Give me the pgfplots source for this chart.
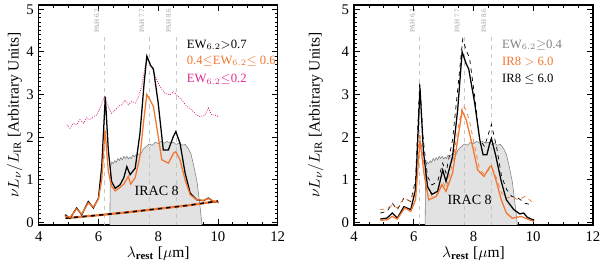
\documentclass[border=0pt]{standalone}
\usepackage{pgfplots}
\pgfplotsset{compat=1.18}
\usepackage{fontspec}
\setmainfont{Liberation Serif}
\definecolor{myorange}{RGB}{242,118,48}
\definecolor{mymag}{RGB}{224,40,140}
\definecolor{filterfill}{RGB}{226,226,226}

\pgfplotstableread{
x y
6.38 -0.1
6.40 1.30
6.45 1.42
6.50 1.38
6.55 1.45
6.60 1.41
6.65 1.50
6.70 1.45
6.75 1.52
6.80 1.47
6.85 1.55
6.90 1.50
6.95 1.55
7.00 1.49
7.05 1.53
7.10 1.50
7.15 1.58
7.20 1.54
7.30 1.62
7.40 1.58
7.50 1.72
7.60 1.78
7.70 1.84
7.80 1.81
7.90 1.88
8.00 1.85
8.10 1.90
8.20 1.86
8.30 1.90
8.40 1.86
8.50 1.88
8.60 1.83
8.70 1.86
8.80 1.81
8.90 1.83
9.00 1.74
9.10 1.60
9.20 1.30
9.30 0.95
9.38 0.50
9.46 0.00
9.47 -0.1
}\filt

\pgfplotstableread{
x y
4.88 0.18
5.05 0.10
5.27 0.34
5.44 0.18
5.66 0.49
5.83 0.34
6.00 0.57
6.11 1.31
6.23 2.95
6.33 1.70
6.44 0.96
6.56 0.80
6.72 0.88
6.85 1.05
6.95 1.31
7.06 1.12
7.23 1.27
7.39 2.09
7.53 3.27
7.62 3.90
7.75 3.68
7.84 3.60
8.00 2.80
8.17 1.70
8.34 1.70
8.51 2.02
8.59 2.13
8.73 1.86
8.90 1.16
9.07 0.69
9.29 0.53
9.51 0.51
9.68 0.57
9.85 0.49
10.02 0.47
}\Lblack

\pgfplotstableread{
x y
4.88 0.15
5.05 0.12
5.27 0.32
5.44 0.20
5.66 0.46
5.83 0.36
6.00 0.55
6.11 1.00
6.22 2.17
6.33 1.20
6.44 0.85
6.56 0.74
6.72 0.82
6.85 0.90
7.00 1.08
7.08 0.90
7.23 1.05
7.39 1.55
7.53 2.48
7.62 3.00
7.73 2.87
7.84 2.72
8.00 2.02
8.12 1.47
8.34 1.39
8.51 1.62
8.59 1.66
8.73 1.47
8.90 1.00
9.07 0.65
9.29 0.53
9.51 0.52
9.68 0.56
9.85 0.50
10.02 0.46
}\Lorange

\pgfplotstableread{
x y
4.94 2.29
5.05 2.21
5.16 2.33
5.27 2.29
5.38 2.41
5.50 2.33
5.61 2.45
5.72 2.41
5.83 2.48
5.94 2.52
6.05 2.68
6.20 2.95
6.33 2.72
6.44 2.56
6.56 2.64
6.67 2.72
6.78 2.76
6.89 2.87
7.00 2.76
7.11 2.84
7.23 2.80
7.34 2.95
7.45 3.19
7.56 3.66
7.62 3.85
7.73 3.70
7.84 3.54
7.95 3.34
8.06 3.19
8.23 3.03
8.40 2.99
8.51 3.07
8.62 2.99
8.79 2.87
8.96 2.72
9.12 2.64
9.29 2.52
9.40 2.48
9.57 2.52
9.68 2.68
9.79 2.52
9.90 2.52
10.02 2.48
}\Lmag

\pgfplotstableread{
x y
4.90 0.10
6.00 0.17
7.00 0.24
8.00 0.32
9.00 0.40
10.00 0.50
}\Lcont

\pgfplotstableread{
x y
4.88 0.08
5.10 0.10
5.28 0.22
5.45 0.10
5.67 0.37
5.90 0.30
6.06 0.77
6.21 3.15
6.32 1.70
6.46 0.84
6.61 0.66
6.80 0.73
6.97 1.23
7.08 0.96
7.30 1.55
7.47 2.64
7.62 4.00
7.75 3.73
7.84 3.60
8.04 2.80
8.21 1.94
8.32 1.59
8.45 1.59
8.54 1.85
8.60 1.97
8.75 1.55
8.93 0.96
9.10 0.53
9.35 0.30
9.55 0.20
9.68 0.22
9.80 0.12
10.03 0.05
}\Rblack

\pgfplotstableread{
x y
4.88 0.05
5.10 0.06
5.28 0.14
5.45 0.08
5.70 0.34
5.90 0.26
6.06 0.53
6.21 1.93
6.34 1.16
6.50 0.53
6.75 0.61
6.95 0.88
7.08 0.73
7.30 1.16
7.47 1.94
7.62 2.62
7.76 2.40
7.97 1.78
8.14 1.23
8.35 1.08
8.54 1.30
8.60 1.33
8.75 1.00
8.93 0.53
9.10 0.22
9.30 0.10
9.60 0.14
9.80 0.08
10.03 0.02
}\Rorange

\pgfplotstableread{
x y
4.88 0.22
5.11 0.26
5.28 0.45
5.45 0.30
5.67 0.57
5.90 0.49
6.06 1.00
6.20 3.30
6.32 1.94
6.46 1.08
6.61 0.88
6.80 0.96
6.97 1.39
7.08 1.16
7.30 1.94
7.47 3.11
7.64 4.30
7.75 4.05
7.87 3.85
8.04 2.95
8.21 1.94
8.37 1.78
8.54 2.17
8.60 2.30
8.77 1.78
8.94 1.08
9.11 0.77
9.28 0.61
9.50 0.57
9.73 0.45
9.95 0.41
}\Rdblack

\pgfplotstableread{
x y
4.88 0.30
5.10 0.32
5.28 0.41
5.45 0.34
5.67 0.57
5.90 0.50
6.06 0.84
6.20 2.10
6.32 1.47
6.46 0.84
6.61 0.61
6.80 0.65
6.97 0.96
7.08 0.80
7.30 1.39
7.47 2.17
7.64 2.75
7.75 2.64
7.87 2.37
8.04 1.78
8.21 1.23
8.37 1.12
8.60 1.31
8.77 1.04
8.94 0.69
9.11 0.57
9.28 0.61
9.50 0.53
9.73 0.61
9.95 0.49
}\Rdorange

\pgfplotsset{panel/.style={
  scale only axis, width=5.975cm, height=5.5cm,
  xmin=4, xmax=12, ymin=-0.06, ymax=5.1,
  xtick={4,6,8,10,12}, ytick={0,1,2,3,4,5},
  minor x tick num=3, minor y tick num=9,
  tick align=inside, major tick length=0.14cm, minor tick length=0.07cm,
  axis line style={line width=1.1pt},
  every tick/.style={black, line width=0.6pt},
  /pgf/number format/assume math mode=true,
  tick label style={font=\fontsize{10.5}{12}\selectfont},
  xlabel={$\lambda_{\mathbf{rest}}$ [$\mu$m]},
  ylabel={$\nu L_\nu/L_{\rm IR}$ [Arbitrary Units]},
  label style={font=\fontsize{11}{13}\selectfont},
  xlabel style={at={(axis description cs:0.5,-0.13)}, anchor=center},
  xticklabel style={yshift=-1pt},
  clip mode=individual,
}}

\newcommand{\pahlines}{
  \addplot[gray!45, dashed, thin] coordinates {(6.2,-0.1) (6.2,4.45)};
  \addplot[gray!45, dashed, thin] coordinates {(7.7,-0.1) (7.7,4.45)};
  \addplot[gray!45, dashed, thin] coordinates {(8.6,-0.1) (8.6,4.45)};
  \node[rotate=90, text=gray!75, font=\fontsize{5}{5}\selectfont] at (axis cs:5.95,4.73) {PAH 6.2};
  \node[rotate=90, text=gray!75, font=\fontsize{5}{5}\selectfont] at (axis cs:7.45,4.73) {PAH 7.7};
  \node[rotate=90, text=gray!75, font=\fontsize{5}{5}\selectfont] at (axis cs:8.35,4.73) {PAH 8.6};
}

\newcommand{\lfont}{\fontsize{9}{11}\selectfont}

\begin{document}
\begin{tikzpicture}
\path[use as bounding box] (0,0) rectangle (15cm,6.675cm);

\begin{axis}[panel, at={(0.9675cm,1.05cm)}, anchor=south west,
  ylabel style={at={(axis description cs:-0.1,0.5)}, anchor=center}]
  \addplot[fill=filterfill, draw=gray, line width=0.4pt] table {\filt} -- cycle;
  \pahlines
  \addplot[mymag, densely dotted, line width=0.6pt] table {\Lmag};
  \addplot[myorange, line width=1.6pt] table {\Lcont};
  \addplot[black, dashed, line width=1.1pt] table {\Lcont};
  \addplot[black, line width=0.9pt] table {\Lblack};
  \addplot[myorange, line width=0.9pt] table {\Lorange};
  \node[font=\fontsize{10}{12}\selectfont] at (axis cs:7.95,0.73) {IRAC 8};
  \node[anchor=west, inner sep=0pt, font=\lfont, text=black] at (axis cs:8.95,4.16) {EW$_{6.2}$$>$0.7};
  \node[anchor=west, inner sep=0pt, font=\lfont, text=myorange] at (axis cs:8.95,3.79) {0.4$\leq$EW$_{6.2}$$\leq$ 0.6};
  \node[anchor=west, inner sep=0pt, font=\lfont, text=mymag] at (axis cs:8.95,3.35) {EW$_{6.2}$$\leq$0.2};
\end{axis}

\begin{axis}[panel, at={(8.85cm,1.05cm)}, anchor=south west,
  ylabel style={at={(axis description cs:-0.16,0.5)}, anchor=center}]
  \addplot[fill=filterfill, draw=gray, line width=0.4pt] table {\filt} -- cycle;
  \pahlines
  \addplot[black, dashed, line width=0.5pt] table {\Rdblack};
  \addplot[myorange, dashed, line width=0.5pt] table {\Rdorange};
  \addplot[black, line width=0.9pt] table {\Rblack};
  \addplot[myorange, line width=0.9pt] table {\Rorange};
  \node[font=\fontsize{10}{12}\selectfont] at (axis cs:7.87,0.53) {IRAC 8};
  \node[anchor=west, inner sep=0pt, font=\lfont, text=gray] at (axis cs:8.95,4.16) {EW$_{6.2}$$\geq$0.4};
  \node[anchor=west, inner sep=0pt, font=\lfont, text=myorange] at (axis cs:8.95,3.77) {IR8 $>$ 6.0};
  \node[anchor=west, inner sep=0pt, font=\lfont, text=black] at (axis cs:8.95,3.35) {IR8 $\leq$ 6.0};
\end{axis}
\end{tikzpicture}
\end{document}
